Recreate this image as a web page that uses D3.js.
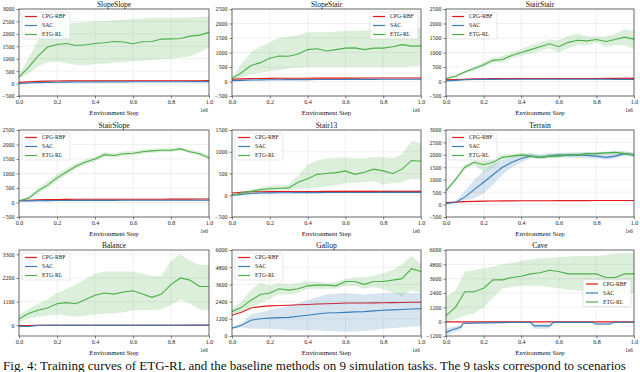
<!DOCTYPE html>
<html><head><meta charset="utf-8">
<script src="https://cdn.jsdelivr.net/npm/d3@7"></script>
<style>body{margin:0;background:#fff;} svg{display:block;font-family:"Liberation Serif","Times New Roman",serif;}</style>
</head><body><svg id="c" width="640" height="372"></svg>
<script>
// ---------- data ----------
const taskNames = ["SlopeSlope","SlopeStair","StairStair","StairSlope","Stair13","Terrain","Balance","Gallop","Cave"];
const methodNames = ["CPG-RBF","SAC","ETG-RL"];
const methodColors = ["#e41a1c","#377eb8","#4daf4a"];
const steps = [0,0.05,0.1,0.15,0.2,0.25,0.3,0.35,0.4,0.45,0.5,0.55,0.6,0.65,0.7,0.75,0.8,0.85,0.9,0.95,1.0];
const xTickValues = [0,0.2,0.4,0.6,0.8,1.0];
const captionText = "Fig. 4: Training curves of ETG-RL and the baseline methods on 9 simulation tasks. The 9 tasks correspond to scenarios";

const yTicksA = [-500,0,500,1000,1500,2000,2500,3000];
const yTicksB = [-500,0,500,1000,1500,2000,2500];
const yTicksStair13 = [-500,0,500,1000,1500];
const yTicksBalance = [0,1100,2200,3300];
const yTicksGallop = [0,1200,2400,3600,4800,6000];
const yTicksCave = [-1200,0,1200,2400,3600,4800,6000];

// SlopeSlope
const ssEtg   = [260,650,1100,1470,1570,1610,1530,1560,1610,1640,1690,1670,1600,1680,1690,1790,1800,1815,1910,1950,2060];
const ssEtgHi = [400,1000,1750,2100,2300,2400,2450,2480,2500,2520,2550,2570,2600,2620,2650,2650,2650,2660,2660,2680,2700];
const ssEtgLo = [200,400,700,850,900,820,760,740,780,800,850,870,900,920,950,980,1000,1050,1100,1250,1450];
const ssCpg   = [50,70,90,100,105,108,110,110,110,112,112,112,113,113,114,114,115,115,116,116,117];
const ssSac   = [0,20,40,50,55,60,62,65,67,68,70,70,72,72,74,74,75,76,77,78,78];
// SlopeStair
const spEtg   = [100,300,550,650,800,880,870,950,1100,1130,1050,1100,1150,1160,1100,1150,1150,1200,1270,1220,1230];
const spEtgHi = [150,600,1000,1200,1350,1500,1550,1600,1700,1700,1700,1720,1750,1750,1750,1800,1850,1850,1850,1850,1850];
const spEtgLo = [50,150,250,300,350,400,450,480,500,500,500,500,500,500,500,500,500,500,500,520,550];
const spCpg   = [80,90,100,105,108,110,112,113,114,115,116,117,118,118,119,120,120,121,121,122,122];
const spSac   = [30,40,50,55,60,62,64,65,66,68,70,70,72,72,74,74,75,76,77,78,80];
// StairStair
const stEtg   = [100,180,330,450,580,730,760,900,1000,1100,1200,1300,1200,1350,1420,1400,1450,1380,1450,1530,1460];
const stEtgHi = [130,220,380,520,660,820,880,1000,1120,1250,1350,1450,1420,1580,1650,1560,1550,1550,1650,1800,1750];
const stEtgLo = [70,140,280,380,500,650,650,800,880,950,1050,1150,1000,1150,1250,1250,1350,1200,1250,1250,1100];
const stCpg   = [60,70,80,90,95,98,100,100,102,102,103,104,104,105,105,106,106,107,107,108,108];
const stSac   = [20,40,60,70,72,74,75,76,78,80,80,80,80,80,78,78,76,75,74,72,70];
// StairSlope
const slEtg   = [60,150,400,600,850,1050,1250,1400,1500,1650,1620,1680,1700,1750,1780,1800,1800,1850,1750,1680,1540];
const slEtgHi = [80,200,500,720,980,1170,1350,1490,1590,1740,1700,1760,1780,1830,1860,1870,1870,1910,1820,1760,1620];
const slEtgLo = [40,100,320,500,740,950,1160,1320,1420,1570,1540,1600,1620,1680,1710,1740,1740,1790,1690,1610,1470];
const slCpg   = [70,80,90,100,105,108,110,110,110,112,112,112,113,113,114,114,115,116,118,120,122];
const slSac   = [50,55,60,65,68,70,72,73,74,75,75,76,76,77,78,78,79,80,80,80,80];
// Stair13
const s13Etg   = [0,50,90,130,150,160,170,300,380,480,500,520,560,480,530,600,560,500,600,800,780];
const s13EtgHi = [20,80,130,180,210,220,250,450,700,800,850,860,870,850,850,880,880,850,950,1250,1200];
const s13EtgLo = [-20,20,60,90,100,110,120,150,150,180,200,230,280,290,300,320,250,280,300,380,350];
const s13Cpg   = [50,70,80,82,84,85,86,86,87,87,88,88,88,89,89,90,90,90,90,90,90];
const s13Sac   = [0,20,40,50,55,57,58,60,60,61,62,62,63,63,64,64,65,65,65,65,65];
// Terrain
const trEtg   = [550,1000,1500,1700,1600,1700,1900,1950,2000,1950,1900,1950,1950,2000,2000,2050,2050,2080,2100,2050,2000];
const trEtgHi = [600,1080,1600,1780,1750,1800,2000,2020,2080,2050,1980,2050,2050,2080,2070,2100,2100,2130,2150,2110,2080];
const trEtgLo = [500,920,1400,1600,1300,1500,1820,1880,1920,1880,1830,1870,1870,1930,1930,1990,2000,2030,2050,1990,1920];
const trSac   = [50,80,300,600,900,1200,1500,1700,1850,1950,1900,1950,2000,1980,2000,1980,1950,1900,1950,2050,2000];
const trSacHi = [70,110,550,1000,1350,1600,1800,1900,2000,2050,2000,2050,2080,2080,2100,2100,2100,2120,2150,2150,2100];
const trSacLo = [30,60,150,250,450,800,1200,1500,1700,1850,1850,1870,1900,1880,1880,1850,1850,1800,1850,1950,1900];
const trCpg   = [80,100,120,130,140,145,150,150,152,155,155,156,158,158,160,160,162,163,165,165,165];
// Balance
const blEtg   = [300,550,700,800,1000,1050,1000,1200,1400,1500,1450,1550,1600,1450,1300,1450,1900,2200,2100,1800,1800];
const blEtgHi = [500,750,1000,1200,1500,1700,1900,2150,2400,2500,2500,2500,2500,2400,2300,2300,3000,3300,3000,2800,2800];
const blEtgLo = [150,300,400,450,500,450,400,450,500,550,550,600,700,700,700,750,950,1200,1000,750,700];
const blCpg   = [-20,-10,0,0,0,0,0,0,0,0,0,0,0,0,0,0,0,0,0,0,0];
const blSac   = [-50,-60,-10,0,0,0,0,0,0,0,0,0,0,0,0,0,0,0,5,10,10];
// Gallop
const gaEtg   = [1700,2000,2500,2900,3000,3300,3200,3300,3500,3550,3550,3500,3800,3800,3600,3800,3800,3900,4000,4700,4500];
const gaEtgHi = [1900,2400,3200,3700,3500,3700,3600,3700,3800,3800,3700,3750,4000,4100,4100,4200,4400,4600,5000,5600,5000];
const gaEtgLo = [1500,1700,1900,2300,2600,2900,2900,3000,3300,3300,3300,3300,3500,3500,3300,3400,3300,3000,2800,3200,3000];
const gaCpg   = [1450,1650,1950,2050,2100,2130,2150,2180,2200,2230,2250,2270,2300,2300,2300,2310,2320,2330,2340,2350,2350];
const gaSac   = [550,750,1100,1200,1250,1280,1300,1380,1450,1530,1600,1620,1650,1680,1700,1750,1800,1820,1850,1880,1900];
const gaSacHi = [600,900,1500,1650,1800,1950,2100,2300,2500,2700,2900,2950,3000,2950,2900,2950,3000,3000,3000,3000,3000];
const gaSacLo = [500,600,500,500,500,450,400,400,400,380,350,330,300,320,350,400,500,550,600,650,700];
// Cave
const cvEtg   = [500,1200,2500,2500,2800,3500,3500,3700,3800,4000,4100,4300,4200,4000,4000,4000,4000,3700,3700,4000,4000];
const cvEtgHi = [2100,2600,4200,4300,4500,4600,4800,4900,5100,5200,5300,5350,5400,5450,5500,5500,5500,5600,5700,5750,5800];
const cvEtgLo = [0,200,500,700,1200,2000,2800,2900,3000,3000,3000,2900,2800,2700,2600,2550,2500,2450,2400,2400,2400];
const cvCpg   = [-20,-20,-20,-20,-20,-20,-20,-20,-20,-20,-20,-20,-20,-20,-20,-20,-20,-20,-20,-20,-20];
const cvSacSteps = [0,0.03,0.06,0.08,0.09,0.2,0.3,0.45,0.46,0.47,0.55,0.56,0.57,0.78,0.79,0.8,0.87,0.88,0.89,1.0];
const cvSac   = [-900,-700,-550,-450,-150,-100,-80,-60,-250,-350,-350,-250,-60,-60,-150,-200,-200,-150,-60,-50];
const cvSacHi = [-600,-450,-350,-250,-100,-50,-40,-30,-100,-150,-150,-100,-30,-30,-100,-120,-120,-100,-30,-20];
const cvSacLo = [-1200,-950,-800,-700,-200,-150,-120,-100,-400,-600,-600,-400,-100,-100,-200,-300,-300,-200,-100,-80];

// narrow band half-width
const narrowHalf = 18;

// ---------- panel table built from the arrays ----------
function S(mean, lo, hi, xs){ return {mean, lo, hi, xs: xs || steps}; }
const panels = [
  {yDomain:[-500,3000], yTicks:yTicksA, legend:"ul", series:[S(ssCpg),S(ssSac),S(ssEtg,ssEtgLo,ssEtgHi)]},
  {yDomain:[-500,2500], yTicks:yTicksB, legend:"ur", series:[S(spCpg),S(spSac),S(spEtg,spEtgLo,spEtgHi)]},
  {yDomain:[-500,2500], yTicks:yTicksB, legend:"ul", series:[S(stCpg),S(stSac),S(stEtg,stEtgLo,stEtgHi)]},
  {yDomain:[-500,2500], yTicks:yTicksB, legend:"ul", series:[S(slCpg),S(slSac),S(slEtg,slEtgLo,slEtgHi)]},
  {yDomain:[-500,1500], yTicks:yTicksStair13, legend:"ul", series:[S(s13Cpg),S(s13Sac),S(s13Etg,s13EtgLo,s13EtgHi)]},
  {yDomain:[-500,3000], yTicks:yTicksA, legend:"ul", series:[S(trCpg),S(trSac,trSacLo,trSacHi),S(trEtg,trEtgLo,trEtgHi)]},
  {yDomain:[-500,3500], yTicks:yTicksBalance, legend:"ul", series:[S(blCpg),S(blSac),S(blEtg,blEtgLo,blEtgHi)]},
  {yDomain:[0,6000], yTicks:yTicksGallop, legend:"ul", series:[S(gaCpg),S(gaSac,gaSacLo,gaSacHi),S(gaEtg,gaEtgLo,gaEtgHi)]},
  {yDomain:[-1200,6000], yTicks:yTicksCave, legend:"cr", series:[S(cvCpg),S(cvSac,cvSacLo,cvSacHi,cvSacSteps),S(cvEtg,cvEtgLo,cvEtgHi)]}
];

// ---------- layout ----------
const colLeft = [19,232,446], colRight = [209,421,634];
const rowTop = [9,130,250], rowBottom = [96,217,336];
const svg = d3.select("#c");
const fmtY = d => d < 0 ? "\u2212" + (-d) : String(d);

panels.forEach((p, i) => {
  const r = Math.floor(i/3), c = i % 3;
  const L = colLeft[c], R = colRight[c], T = rowTop[r], B = rowBottom[r];
  const x = d3.scaleLinear().domain([0,1]).range([L,R]);
  const y = d3.scaleLinear().domain(p.yDomain).range([B,T]);
  const g = svg.append("g");

  // grid
  g.selectAll(null).data(xTickValues).join("line")
    .attr("x1", d=>x(d)).attr("x2", d=>x(d)).attr("y1", T).attr("y2", B)
    .attr("stroke", "#e6e6e6").attr("stroke-width", 0.6);
  g.selectAll(null).data(p.yTicks).join("line")
    .attr("x1", L).attr("x2", R).attr("y1", d=>y(d)).attr("y2", d=>y(d))
    .attr("stroke", "#e6e6e6").attr("stroke-width", 0.6);

  const cid = "clip" + i;
  svg.append("clipPath").attr("id", cid).append("rect")
    .attr("x", L).attr("y", T).attr("width", R-L).attr("height", B-T);
  const pg = g.append("g").attr("clip-path", `url(#${cid})`);

  p.series.forEach((s, k) => {
    const pts = s.xs.map((xv, j) => ({
      x: xv, m: s.mean[j],
      lo: s.lo ? s.lo[j] : s.mean[j] - narrowHalf,
      hi: s.hi ? s.hi[j] : s.mean[j] + narrowHalf
    }));
    pg.append("path").datum(pts)
      .attr("d", d3.area().x(d=>x(d.x)).y0(d=>y(d.lo)).y1(d=>y(d.hi)))
      .attr("fill", methodColors[k]).attr("fill-opacity", 0.2);
    pg.append("path").datum(pts)
      .attr("d", d3.line().x(d=>x(d.x)).y(d=>y(d.m)))
      .attr("fill", "none").attr("stroke", methodColors[k]).attr("stroke-width", 1.1);
  });

  // frame
  g.append("rect").attr("x", L).attr("y", T).attr("width", R-L).attr("height", B-T)
    .attr("fill", "none").attr("stroke", "#333").attr("stroke-width", 0.7);

  // axes
  const ax = g.append("g").attr("transform", `translate(0,${B})`)
    .call(d3.axisBottom(x).tickValues(xTickValues).tickSize(2.5).tickPadding(1.5).tickFormat(d3.format(".1f")));
  const ay = g.append("g").attr("transform", `translate(${L},0)`)
    .call(d3.axisLeft(y).tickValues(p.yTicks).tickSize(2.5).tickPadding(2).tickFormat(fmtY));
  [ax, ay].forEach(a => {
    a.select(".domain").remove();
    a.selectAll("line").attr("stroke", "#333").attr("stroke-width", 0.6);
    a.selectAll("text").attr("font-family", "Liberation Serif").attr("font-size", 6).attr("fill", "#222");
  });

  // title and labels
  g.append("text").attr("x", (L+R)/2).attr("y", T-2.5).attr("text-anchor", "middle")
    .attr("font-size", 7.5).attr("fill", "#111").text(taskNames[i]);
  g.append("text").attr("x", (L+R)/2).attr("y", B+18.5).attr("text-anchor", "middle")
    .attr("font-size", 6.8).attr("fill", "#111").text("Environment Step");
  g.append("text").attr("x", R - 1).attr("y", B+15.5).attr("text-anchor", "end")
    .attr("font-size", 5.3).attr("fill", "#222").text("1e6");

  // legend
  const lw = 48, lh = 27;
  let lx = L + 3, ly = T + 3;
  if (p.legend === "ur") { lx = R - 3 - lw; }
  if (p.legend === "cr") { lx = R - 3 - lw; ly = (T+B)/2 - lh/2; }
  const lg = g.append("g").attr("transform", `translate(${lx},${ly})`);
  lg.append("rect").attr("width", lw).attr("height", lh).attr("rx", 1.5)
    .attr("fill", "#fff").attr("fill-opacity", 0.85).attr("stroke", "#ccc").attr("stroke-width", 0.5);
  methodNames.forEach((nm, k) => {
    const yy = 4.5 + k*9;
    lg.append("line").attr("x1", 3).attr("x2", 15).attr("y1", yy).attr("y2", yy)
      .attr("stroke", methodColors[k]).attr("stroke-width", 1.2);
    lg.append("text").attr("x", 20).attr("y", yy).attr("dy", "0.35em")
      .attr("font-size", 5.7).attr("fill", "#222").text(nm);
  });
});

svg.append("text").attr("x", 3).attr("y", 369.5).attr("font-size", 13.05).attr("fill", "#111")
  .text(captionText);
</script></body></html>
